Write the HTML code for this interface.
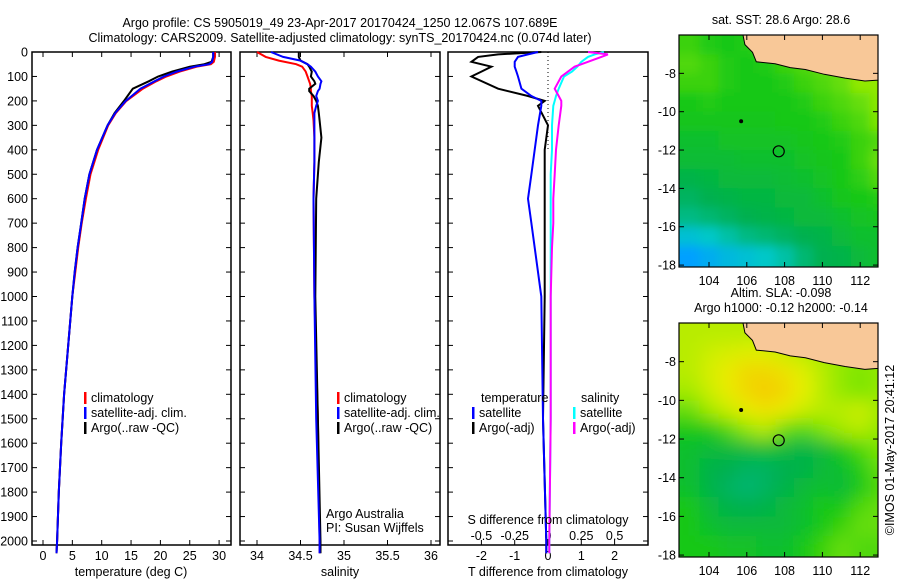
<!DOCTYPE html>
<html><head><meta charset="utf-8"><style>
body{margin:0;background:#fff;}
svg text{font-family:"Liberation Sans",sans-serif;font-size:12.5px;fill:#000;}
</style></head><body>
<svg id="c" width="900" height="580" xmlns="http://www.w3.org/2000/svg">
<text x="340" y="27" text-anchor="middle" font-size="13">Argo profile: CS 5905019_49 23-Apr-2017 20170424_1250 12.067S 107.689E</text>
<text x="340" y="42" text-anchor="middle" font-size="13">Climatology: CARS2009. Satellite-adjusted climatology: synTS_20170424.nc (0.074d later)</text>
<g id="g"></g>
</svg>
<script>
// ---- data ----
const depthTicks=[0,100,200,300,400,500,600,700,800,900,1000,1100,1200,1300,1400,1500,1600,1700,1800,1900,2000];
const tempTicks=[0,5,10,15,20,25,30];
const salTicks=[34,34.5,35,35.5,36];
const tdTicks=[-2,-1,0,1,2];
const sdTicks=[-0.5,-0.25,0,0.25,0.5];
const tDepth=[0,20,40,50,60,80,100,120,150,200,250,300,400,500,600,700,800,900,1000,1200,1400,1600,1800,2000,2050];
const tClim=[29.3,29.3,29.1,28.6,26.2,23.3,21,19.3,17,14.2,12.4,11.1,9.4,8.1,7.3,6.6,6,5.5,5,4.3,3.6,3.1,2.7,2.4,2.3];
const tSat=[29,29,28.8,28.3,25.8,22.8,20.6,19,16.6,14.1,12.3,11,9.2,7.9,7.1,6.5,5.9,5.4,5,4.3,3.6,3.1,2.7,2.4,2.3];
const tArgo=[29,29,28.7,27.5,25,22,19.6,18,15.3,13.8,12.2,11,9.2,7.9,7.1,6.5,5.9,5.4,5,4.3,3.6,3.1,2.7,2.4,2.3];
const sDepth=[0,20,35,50,60,80,100,120,130,150,160,180,200,220,250,280,350,450,600,1000,1500,2000,2050];
const sClim=[34.0,34.1,34.25,34.45,34.52,34.56,34.58,34.6,34.61,34.62,34.62,34.63,34.63,34.63,34.64,34.65,34.66,34.66,34.65,34.66,34.7,34.72,34.72];
const sSat=[34.16,34.3,34.5,34.58,34.62,34.67,34.7,34.74,34.73,34.72,34.7,34.68,34.7,34.68,34.66,34.66,34.66,34.66,34.65,34.66,34.68,34.72,34.72];
const sArgo=[34.48,34.48,34.5,34.58,34.6,34.63,34.62,34.66,34.67,34.6,34.6,34.65,34.68,34.7,34.71,34.72,34.74,34.71,34.68,34.67,34.7,34.73,34.73];
const dDepth=[0,10,20,40,60,80,100,150,180,200,220,300,400,500,600,700,800,1000,1500,2000,2050];
const dTsat=[-0.3,-0.6,-0.9,-1.0,-1.0,-0.95,-0.9,-0.8,-0.5,-0.2,-0.2,-0.3,-0.4,-0.5,-0.6,-0.5,-0.4,-0.2,-0.15,-0.05,-0.05];
const dTargo=[-0.2,-1.5,-2.1,-2.3,-1.7,-2.0,-2.3,-1.5,-0.6,-0.1,-0.3,0,-0.1,-0.1,-0.1,-0.1,-0.1,-0.1,-0.15,-0.05,-0.05];
const dSsat=[0.42,0.35,0.3,0.25,0.22,0.18,0.12,0.08,0.06,0.05,0.04,0.03,0.03,0.02,0.02,0.02,0.02,0.02,0.02,0.01,0.01];
const dSargo=[0.3,0.45,0.4,0.3,0.2,0.15,0.1,0.05,0.08,0.1,0.1,0.08,0.06,0.05,0.04,0.04,0.03,0.02,0.02,0.01,0.01];
const lonTicks=[104,106,108,110,112];
const latTicks=[-8,-10,-12,-14,-16,-18];
const sstGrid=[
[.58,.56,.55,.56,.6,.6,.6,.6,.65,.65,.62],
[.6,.58,.56,.55,.56,.58,.6,.62,.63,.65,.65],
[.58,.58,.56,.55,.55,.56,.58,.6,.62,.66,.66],
[.55,.56,.55,.55,.55,.55,.56,.58,.6,.62,.65],
[.54,.54,.54,.54,.54,.55,.55,.56,.58,.6,.64],
[.52,.52,.53,.53,.53,.53,.54,.55,.56,.58,.6],
[.51,.51,.51,.52,.52,.52,.53,.54,.55,.58,.62],
[.48,.49,.5,.5,.5,.51,.52,.53,.55,.57,.6],
[.46,.47,.48,.49,.49,.5,.5,.52,.54,.55,.56],
[.44,.45,.46,.47,.48,.49,.5,.5,.52,.53,.54],
[.38,.4,.42,.44,.45,.46,.47,.48,.5,.52,.52],
[.3,.33,.36,.38,.4,.42,.45,.47,.48,.5,.52]];
const slaGrid=[
[.7,.7,.7,.7,.7,.7,.68,.6,.6,.62,.62],
[.7,.72,.73,.74,.74,.72,.7,.68,.66,.66,.66],
[.7,.73,.76,.8,.8,.78,.74,.7,.66,.64,.66],
[.68,.72,.76,.8,.83,.8,.75,.7,.66,.64,.66],
[.62,.68,.72,.76,.78,.76,.72,.7,.7,.72,.68],
[.55,.55,.6,.66,.7,.62,.6,.64,.68,.7,.66],
[.52,.5,.5,.5,.52,.5,.48,.5,.55,.6,.64],
[.52,.48,.47,.46,.46,.47,.48,.5,.52,.56,.62],
[.52,.48,.46,.45,.46,.48,.5,.52,.5,.55,.6],
[.55,.5,.48,.47,.48,.5,.52,.55,.55,.6,.62],
[.55,.52,.5,.5,.5,.5,.52,.55,.58,.62,.62],
[.55,.55,.53,.53,.52,.52,.55,.58,.62,.6,.6]];
const landLon=[105.8,105.9,106.3,106.5,107.5,108.3,109.1,110.1,111.2,112.25,112.95,112.95];
const landLat=[-6.0,-6.5,-6.9,-7.4,-7.5,-7.7,-7.8,-8.05,-8.25,-8.4,-8.35,-6.0];
const argoLon=107.689, argoLat=-12.067;

// ---- helpers ----
const NS="http://www.w3.org/2000/svg";
const G=document.getElementById('g');
function mk(tag,attrs,parent){const e=document.createElementNS(NS,tag);for(const k in attrs)e.setAttribute(k,attrs[k]);(parent||G).appendChild(e);return e;}
function txt(x,y,s,anchor,parent){const t=mk('text',{x:x,y:y,'text-anchor':anchor||'start'},parent);t.textContent=s;return t;}
const Y0=52,YS=0.2445;
const yD=d=>Y0+d*YS;
const P1={x0:32,x1:231},P2={x0:240,x1:440},P3={x0:448,x1:648},PB=545;
const xT=v=>43+v*5.87;
const xS=v=>257+(v-34)*87;
const xTd=v=>548+v*33.3;
const xSd=v=>548+v*133.2;

function panel(P,name){
  const r=mk('rect',{x:P.x0,y:Y0,width:P.x1-P.x0,height:PB-Y0,fill:'none',stroke:'#000','stroke-width':1.5});
  
  depthTicks.forEach(d=>{
    mk('line',{x1:P.x0,x2:P.x0+5,y1:yD(d),y2:yD(d),stroke:'#000'});
    mk('line',{x1:P.x1,x2:P.x1-5,y1:yD(d),y2:yD(d),stroke:'#000'});
  });
}
function line(xs,ds,fx,color,name){
  const pts=xs.map((v,i)=>fx(v).toFixed(1)+','+yD(ds[i]).toFixed(1)).join(' ');
  const p=mk('polyline',{points:pts,fill:'none',stroke:color,'stroke-width':2});
  
  
}
function legend(x,y,items){
  items.forEach((it,i)=>{
    mk('rect',{x:x,y:y+i*15-10,width:2.5,height:12,fill:it[0]});
    const t=txt(x+7,y+i*15,it[1]);
    
    
  });
}

// depth labels
depthTicks.forEach(d=>{txt(28,yD(d)+4.5,String(d),'end');});

// panel 1
panel(P1,'temperature-panel');
tempTicks.forEach(v=>{mk('line',{x1:xT(v),x2:xT(v),y1:PB,y2:PB-5,stroke:'#000'});mk('line',{x1:xT(v),x2:xT(v),y1:Y0,y2:Y0+5,stroke:'#000'});txt(xT(v),560,String(v),'middle');});
line(tClim,tDepth,xT,'#f00','temp-climatology-line');
line(tArgo,tDepth,xT,'#000','temp-argo-line');
line(tSat,tDepth,xT,'#00f','temp-satellite-line');
legend(84,402,[['#f00','climatology'],['#00f','satellite-adj. clim.'],['#000','Argo(..raw -QC)']]);
txt(131,576,'temperature (deg C)','middle');

// panel 2
panel(P2,'salinity-panel');
salTicks.forEach(v=>{mk('line',{x1:xS(v),x2:xS(v),y1:PB,y2:PB-5,stroke:'#000'});mk('line',{x1:xS(v),x2:xS(v),y1:Y0,y2:Y0+5,stroke:'#000'});txt(xS(v),560,String(v),'middle');});
line(sClim,sDepth,xS,'#f00','sal-climatology-line');
line(sArgo,sDepth,xS,'#000','sal-argo-line');
line(sSat,sDepth,xS,'#00f','sal-satellite-line');
legend(337,402,[['#f00','climatology'],['#00f','satellite-adj. clim.'],['#000','Argo(..raw -QC)']]);
txt(326,518,'Argo Australia');txt(326,532,'PI: Susan Wijffels');
txt(340,576,'salinity','middle');

// panel 3
panel(P3,'difference-panel');
mk('line',{x1:548,x2:548,y1:Y0,y2:yD(400),stroke:'#000','stroke-dasharray':'1,3'});
tdTicks.forEach(v=>{mk('line',{x1:xTd(v),x2:xTd(v),y1:PB,y2:PB-5,stroke:'#000'});txt(xTd(v),560,String(v),'middle');});
sdTicks.forEach(v=>{txt(xSd(v),540,String(v),'middle');});
line(dTargo,dDepth,xTd,'#000','tdiff-argo-line');
line(dTsat,dDepth,xTd,'#00f','tdiff-satellite-line');
line(dSsat,dDepth,xSd,'#0ff','sdiff-satellite-line');
line(dSargo,dDepth,xSd,'#f0f','sdiff-argo-line');
txt(481,402,'temperature');txt(581,402,'salinity');
legend(472,417,[['#00f','satellite'],['#000','Argo(-adj)']]);
legend(573,417,[['#0ff','satellite'],['#f0f','Argo(-adj)']]);
txt(548,524,'S difference from climatology','middle');
txt(548,576,'T difference from climatology','middle');

// maps
function cmap(v){
  const st=[[0.15,[0,32,192]],[0.3,[0,160,255]],[0.4,[0,200,200]],[0.47,[0,176,80]],[0.55,[24,200,24]],[0.65,[136,232,0]],[0.75,[232,240,0]],[0.85,[248,192,0]]];
  if(v<=st[0][0])return 'rgb('+st[0][1]+')';
  for(let i=1;i<st.length;i++){if(v<=st[i][0]){const a=st[i-1],b=st[i],t=(v-a[0])/(b[0]-a[0]);return 'rgb('+a[1].map((c,j)=>Math.round(c+(b[1][j]-c)*t)).join(',')+')';}}
  return 'rgb('+st[st.length-1][1]+')';
}
function map(top,bottom,latTop,grid,blur,name,title1,title2){
  const X0=679,X1=878;
  const fx=lon=>709+(lon-104)*18.9;
  const fy=lat=>top+(latTop-lat)*((bottom-top)/12.1);
  const id='clip'+name;
  const cp=mk('clipPath',{id:id});mk('rect',{x:X0,y:top,width:X1-X0,height:bottom-top},cp);
  const g=mk('g',{'clip-path':'url(#'+id+')'});
  
  const inner=mk('g',{filter:blur?'url(#blur)':'url(#blur2)'},g);
  grid.forEach((row,r)=>row.forEach((v,c)=>{
    let x=fx(102.5+c),y=fy(-6-r),w=fx(103.5+c)-x+0.5,h=fy(-7-r)-y+0.5;
    if(c===0){x-=20;w+=20;} if(c===row.length-1)w+=20; if(r===0){y-=20;h+=20;} if(r===grid.length-1)h+=20;
    const cell=mk('rect',{x:x,y:y,width:w,height:h,fill:cmap(v)},inner);
    
    
  }));
  const lp=landLon.map((l,i)=>fx(l).toFixed(1)+','+fy(landLat[i]).toFixed(1)).join(' ');
  mk('polygon',{points:lp+' '+fx(113.5)+','+(top-5)+' '+fx(105.8)+','+(top-5),fill:'#f8c898',stroke:'#000','stroke-width':1},g);
  mk('circle',{cx:fx(argoLon),cy:fy(argoLat),r:5.5,fill:'none',stroke:'#000','stroke-width':1.2},g);
  mk('circle',{cx:fx(105.7),cy:fy(-10.5),r:2,fill:'#000'},g);
  mk('rect',{x:X0,y:top,width:X1-X0,height:bottom-top,fill:'none',stroke:'#000','stroke-width':1.2});
  lonTicks.forEach(l=>{mk('line',{x1:fx(l),x2:fx(l),y1:bottom,y2:bottom-5,stroke:'#000'});mk('line',{x1:fx(l),x2:fx(l),y1:top,y2:top+5,stroke:'#000'});txt(fx(l),bottom+18,String(l),'middle');});
  latTicks.forEach(l=>{mk('line',{x1:X1,x2:X1-5,y1:fy(l),y2:fy(l),stroke:'#000'});mk('line',{x1:X0,x2:X0+5,y1:fy(l),y2:fy(l),stroke:'#000'});txt(X0-3,fy(l)+4.5,String(l),'end');});
  txt(781,top-11-(title2?15:0),title1,'middle');
  if(title2)txt(781,top-11,title2,'middle');
}
const defs=mk('defs',{});
const f=mk('filter',{id:'blur',x:'-10%',y:'-10%',width:'120%',height:'120%'},defs);mk('feGaussianBlur',{stdDeviation:9},f);
const f2=mk('filter',{id:'blur2',x:'-10%',y:'-10%',width:'120%',height:'120%'},defs);mk('feGaussianBlur',{stdDeviation:5},f2);
map(35,267,-6,sstGrid,false,'sst-map','sat. SST: 28.6 Argo: 28.6',null);
map(323,557,-6,slaGrid,true,'sla-map','Altim. SLA: -0.098','Argo h1000: -0.12 h2000: -0.14');
const cr=txt(0,0,'©IMOS 01-May-2017 20:41:12','middle');
cr.setAttribute('transform','translate(894,450) rotate(-90)');

</script>
</body></html>
